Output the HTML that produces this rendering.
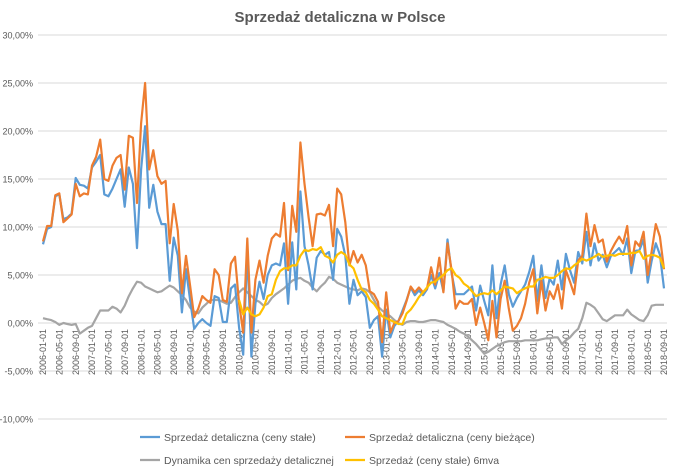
<!DOCTYPE html>
<html><head><meta charset="utf-8"><style>
body{margin:0;background:#fff;}
svg{display:block;font-family:"Liberation Sans",sans-serif;}
</style></head><body>
<svg id="c" width="679" height="473">
<text x="340" y="22" text-anchor="middle" font-size="15" font-weight="bold" fill="#595959">Sprzedaż detaliczna w Polsce</text>
<g id="grid"></g>
<g id="yax"></g>
<g id="xax"></g>
<g id="series"></g>
<g font-size="10.5" fill="#595959">
<line x1="140" y1="437" x2="160" y2="437" stroke="#5b9bd5" stroke-width="2.2"/>
<text x="164" y="441">Sprzedaż detaliczna (ceny stałe)</text>
<line x1="345" y1="437" x2="365" y2="437" stroke="#ed7d31" stroke-width="2.2"/>
<text x="369" y="441">Sprzedaż detaliczna (ceny bieżące)</text>
<line x1="140" y1="460" x2="160" y2="460" stroke="#a5a5a5" stroke-width="2.2"/>
<text x="164" y="464">Dynamika cen sprzedaży detalicznej</text>
<line x1="345" y1="460" x2="365" y2="460" stroke="#ffc000" stroke-width="2.2"/>
<text x="369" y="464">Sprzedaż (ceny stałe) 6mva</text>
</g>
</svg>
<script>
const yTicks=[-10,-5,0,5,10,15,20,25,30];
const startYear=2006, nMonths=153;
const constant=[8.2,9.8,10,13.2,13.4,10.8,11,11.4,15.1,14.4,14.3,14.0,
16.2,16.8,17.5,13.4,13.2,14,15,16,12.1,16.2,14.5,7.8,
16,20.5,12,14.4,11.6,10.3,10.3,4.4,8.9,7,1.1,5.6,
2.4,-0.6,0,0.4,0,-0.3,2.8,2.6,0.1,0.1,3.6,4,
-0.5,-3.3,7.5,-3.5,2,4.3,2.5,5,6,6.2,6,8.3,
2,8.4,3.5,13.7,8,6,3.5,6.8,7.5,7.1,7.4,4.5,
9.8,9,7,2,4.5,2.9,3.3,2.7,-0.5,0.3,0.7,-3.5,
1.4,-1.5,-0.3,0.2,1.3,2.4,3.7,2.9,3.4,2.9,3.5,5,
3.6,5.2,3.3,8.7,5.2,3,3,3,3.4,3.8,1.3,3.9,
2.3,0.8,6,0.5,4,6,3,1.7,2.6,3.3,4,5.3,
7,2.3,6,2.6,4.6,4,6.5,3.5,7.2,5.5,4.2,7.4,
6.2,9.5,6,8.3,6.5,7.1,5.8,7,7.4,7.8,7.1,8.8,
5.2,7.5,7.6,8.7,4.2,6.5,8.3,7.1,3.6];
const current=[8.5,10.1,10.1,13.3,13.5,10.5,10.9,11.3,14.5,13.2,13.5,13.4,
16.4,17.3,19.1,15,14.8,16.4,17.2,17.5,13.9,19.5,19.3,12.5,
20.8,25,16,18,15.3,14.5,14.8,8.3,12.4,9.6,3.1,7,
3.9,0.6,1.5,2.8,2.4,2.1,5.6,5,2.4,2.2,6.2,6.9,
2,-1,8.8,-1,4.5,6.5,4.2,7,8.8,9.3,9,12.5,
5.5,12.2,9.5,18.8,14.5,11,8,11.3,11.4,11.2,12.3,8,
14,13.4,10.5,6,7.5,6.3,7.1,6,3.3,3,2.2,-2,
3.2,-1,0,0.2,1,2.3,3.8,3.2,3.7,3.2,3.6,5.8,
4,6.8,3.2,8.3,5.5,1.5,2.3,2,2,2.5,-0.2,1.6,
0,-1.8,2.3,-1.5,2.5,4.4,1.5,-0.8,-0.3,0.5,2,4.2,
5.6,1,4.4,1.3,3.3,2.5,4,1.5,5.5,4.3,3,6.5,
7,11.4,8,10.2,8.4,8.7,6.4,7.5,8.3,9,8.3,10.1,
6,8.5,8,9.5,5,7.5,10.3,9,5.6];
const prices=[0.5,0.4,0.3,0.1,-0.2,0,-0.1,-0.2,-0.1,-1.1,-0.8,-0.5,
-0.3,0.5,1.3,1.3,1.3,1.7,1.5,1.1,1.8,2.8,3.6,4.3,
4.2,3.8,3.6,3.4,3.2,3.3,3.6,3.9,3.7,3.3,2.9,2.4,
1.6,1.2,1.0,1.6,2.0,2.4,2.4,2.4,2.2,2.0,2.1,2.7,
3.2,3.6,3.2,2.8,2.4,2.2,1.8,2.0,2.6,3.0,3.3,3.6,
4.0,4.4,4.6,4.7,4.4,4.2,3.7,3.3,3.8,4.2,4.8,4.6,
4.2,4.0,3.8,3.6,3.5,3.4,3.6,3.5,3.2,2.4,1.7,1.3,
1.0,0.7,0.3,0,-0.2,0.1,0.2,0.2,0.1,0.1,0.2,0.3,
0.3,0.2,0.1,-0.2,-0.4,-0.6,-0.9,-1.1,-1.4,-1.8,-2.2,-2.7,
-3.2,-3.0,-2.7,-2.4,-2.2,-2.0,-1.9,-1.9,-1.9,-1.9,-1.8,-1.8,
-1.8,-1.8,-1.7,-1.6,-1.6,-1.5,-1.5,-2.2,-1.8,-1.5,-1.0,-0.6,
0.5,2.1,1.9,1.6,1.0,0.4,0.2,0.5,0.8,0.8,0.8,1.4,
0.9,0.6,0.3,0.2,0.8,1.8,1.9,1.9,1.9];
const mvaStart=48;
const mva=[2.4,0.9,1.6,0.9,0.7,0.9,1.6,2.8,3,4.5,5.4,5.7,
5.7,6,6,7,7.6,7.5,7.7,7.6,7.9,7,6.8,6.3,
7.1,7.4,7.1,6.1,5.7,4.5,3.5,3.2,2.4,2,1.4,0.7,
0.5,0.3,0.1,-0.1,-0.1,1,1.4,2,2.7,3.2,3.7,4.2,
4.3,4.7,5,5.5,5.7,5,4.7,4.1,3.8,3.3,2.8,3,
3.1,3,3.4,3,3.4,3.8,3.7,3.6,3.1,3.4,3.6,3.8,
3.8,4.5,4.6,4.8,4.7,4.7,5,5.4,5.7,5.6,6,6.3,
6.7,6.5,6.7,6.9,7.2,6.9,7,7.1,7,7.2,7.2,7.2,
7.3,7.3,7.5,6.7,7,7.1,7,6.8,5.7];

const NS="http://www.w3.org/2000/svg";
const L=38,R=667,X0=43,X1=664;
const yS=v=>323-v*9.6;
const xS=i=>X0+i*(X1-X0)/(nMonths-1);
function mk(t,a,p){const e=document.createElementNS(NS,t);for(const k in a)e.setAttribute(k,a[k]);p.appendChild(e);return e;}
const grid=document.getElementById('grid'),yax=document.getElementById('yax'),xax=document.getElementById('xax'),ser=document.getElementById('series');
yTicks.forEach(v=>{
  const g=mk('line',{x1:L,x2:R,y1:yS(v),y2:yS(v),stroke:'#d9d9d9','stroke-width':1},grid);
  
  
  const t=mk('text',{x:33,y:yS(v)+3.5,'text-anchor':'end','font-size':9,fill:'#595959'},yax);
  t.textContent=v.toFixed(2).replace('.',',')+'%';
  
  
});
for(let i=0;i<nMonths;i+=4){
  const yr=startYear+Math.floor(i/12),m=i%12+1;
  const x=xS(i);
  const t=mk('text',{x:0,y:0,'text-anchor':'end','font-size':9,fill:'#595959',transform:`translate(${x+3.2},329) rotate(-90)`},xax);
  t.textContent=yr+'-'+String(m).padStart(2,'0')+'-01';
  
  
}
function line(arr,off,color,name){
  const d=arr.map((v,i)=>(i?'L':'M')+xS(i+off).toFixed(1)+' '+yS(v).toFixed(1)).join(' ');
  const p=mk('path',{d:d,fill:'none',stroke:color,'stroke-width':2.2,'stroke-linejoin':'round'},ser);
  
  
}
line(prices,0,'#a5a5a5','price-dynamics-line');
line(constant,0,'#5b9bd5','constant-prices-line');
line(current,0,'#ed7d31','current-prices-line');
line(mva,mvaStart,'#ffc000','mva-line');
</script>
</body></html>
